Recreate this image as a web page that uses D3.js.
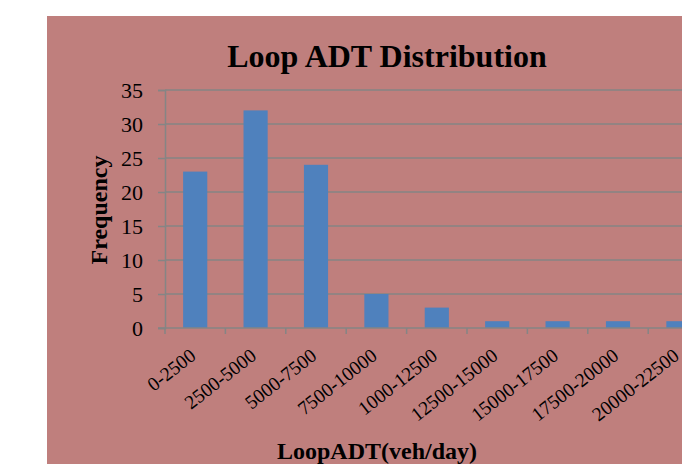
<!DOCTYPE html>
<html><head><meta charset="utf-8">
<script src="https://cdn.jsdelivr.net/npm/d3@7"></script>
<style>body{margin:0;background:#fff;}svg{display:block;}</style>
</head><body>
<script>
const categories = ["0-2500","2500-5000","5000-7500","7500-10000","1000-12500","12500-15000","15000-17500","17500-20000","20000-22500"];
const frequency = [23, 32, 24, 5, 3, 1, 1, 1, 1];
const yTicks = [0, 5, 10, 15, 20, 25, 30, 35];

(function () {
const W = 682, H = 464;
const svg = d3.select("body").append("svg").attr("width", W).attr("height", H);
svg.append("rect").attr("x", 47).attr("y", 16).attr("width", W - 47).attr("height", H - 16).attr("fill", "#bf7f7d");

const pLeft = 165, pTop = 90, pBottom = 328;
const x = d3.scaleBand().domain(categories).range([pLeft, pLeft + 9 * 60.4]).paddingInner(0.6).paddingOuter(0.3);
const y = d3.scaleLinear().domain([0, 35]).range([pBottom, pTop]);
const grid = "#858585";
const font = "'Liberation Serif', 'Times New Roman', serif";

// gridlines
svg.append("g").selectAll("line").data(yTicks.filter(d => d > 0)).join("line")
  .attr("x1", pLeft).attr("x2", W).attr("y1", d => y(d)).attr("y2", d => y(d))
  .attr("stroke", grid).attr("stroke-width", 1.5);

// y axis
const ya = svg.append("g").attr("transform", `translate(${pLeft},0)`)
  .call(d3.axisLeft(y).tickValues(yTicks).tickSize(7).tickPadding(15));
ya.select(".domain").attr("stroke", grid).attr("stroke-width", 1.5);
ya.selectAll(".tick line").attr("stroke", grid).attr("stroke-width", 1.5);
ya.selectAll(".tick text").attr("font-family", font).attr("font-size", 22).attr("fill", "#000").attr("dy", "0.34em");

// bars
svg.append("g").selectAll("rect").data(frequency).join("rect")
  .attr("x", (d, i) => x(categories[i])).attr("width", x.bandwidth())
  .attr("y", d => y(d)).attr("height", d => y(0) - y(d)).attr("fill", "#4f81bd");

// x axis
const step = x.step();
const xg = svg.append("g");
xg.append("line").attr("x1", pLeft - 7).attr("x2", W).attr("y1", pBottom).attr("y2", pBottom)
  .attr("stroke", grid).attr("stroke-width", 1.5);
xg.selectAll("line.t").data(d3.range(categories.length + 1)).join("line").attr("class", "t")
  .attr("x1", i => pLeft + i * step).attr("x2", i => pLeft + i * step)
  .attr("y1", pBottom).attr("y2", pBottom + 6).attr("stroke", grid).attr("stroke-width", 1.5);
xg.selectAll("text").data(categories).join("text")
  .attr("transform", d => `translate(${x(d) + x.bandwidth() / 2 + 2},${pBottom + 30}) rotate(-38)`)
  .attr("text-anchor", "end").attr("font-family", font).attr("font-size", 19.5).attr("fill", "#000")
  .text(d => d);

// titles
svg.append("text").attr("x", 387).attr("y", 67).attr("text-anchor", "middle")
  .attr("font-family", font).attr("font-weight", "bold").attr("font-size", 32).text("Loop ADT Distribution");
svg.append("text").attr("transform", "translate(107,210) rotate(-90)").attr("text-anchor", "middle")
  .attr("font-family", font).attr("font-weight", "bold").attr("font-size", 24).text("Frequency");
svg.append("text").attr("x", 377).attr("y", 459).attr("text-anchor", "middle")
  .attr("font-family", font).attr("font-weight", "bold").attr("font-size", 24).text("LoopADT(veh/day)");
})();
</script>
</body></html>
